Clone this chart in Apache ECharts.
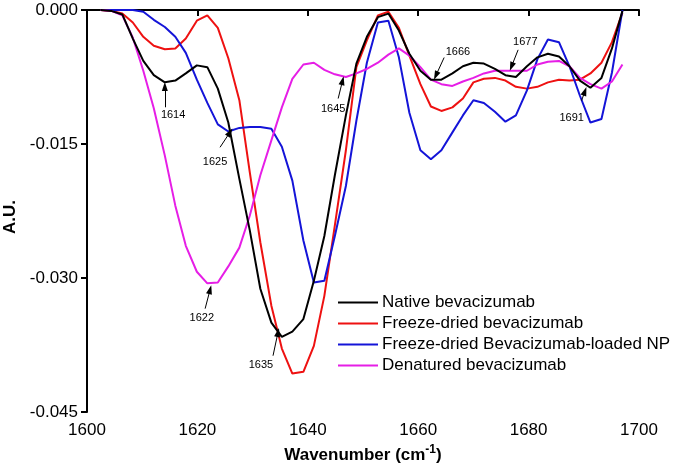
<!DOCTYPE html>
<html><head><meta charset="utf-8">
<script src="https://cdn.jsdelivr.net/npm/echarts@6/dist/echarts.min.js"></script>
<style>html,body{margin:0;padding:0;background:#fff}#c{width:675px;height:466px}</style>
</head><body><div id="c"></div>
<script>
const wavenumbers = [1602.5,1604.4,1606.4,1608.3,1610.2,1612.1,1614.1,1616.0,1617.9,1619.9,1621.8,1623.7,1625.6,1627.6,1629.5,1631.4,1633.4,1635.3,1637.2,1639.2,1641.1,1643.0,1644.9,1646.9,1648.8,1650.7,1652.7,1654.6,1656.5,1658.4,1660.4,1662.3,1664.2,1666.2,1668.1,1670.0,1671.9,1673.9,1675.8,1677.7,1679.7,1681.6,1683.5,1685.5,1687.4,1689.3,1691.2,1693.2,1695.1,1697.0];
const nativeBev = [0,-0.0001,-0.0005,-0.0032,-0.0057,-0.0073,-0.0081,-0.0079,-0.0071,-0.0062,-0.0064,-0.0088,-0.0126,-0.0189,-0.0247,-0.0312,-0.0350,-0.0366,-0.0360,-0.0346,-0.0303,-0.0253,-0.0185,-0.0118,-0.0060,-0.0030,-0.0008,-0.0004,-0.0023,-0.0049,-0.0068,-0.0078,-0.0078,-0.0071,-0.0063,-0.0059,-0.0060,-0.0066,-0.0073,-0.0075,-0.0063,-0.0053,-0.0049,-0.0052,-0.0063,-0.0079,-0.0087,-0.0076,-0.0043,-0.0001];
const freezeDried = [0,-0.0001,-0.0004,-0.0014,-0.0030,-0.0040,-0.0044,-0.0043,-0.0032,-0.0012,-0.0006,-0.0020,-0.0054,-0.0101,-0.0182,-0.0260,-0.0331,-0.0379,-0.0407,-0.0405,-0.0376,-0.0320,-0.0241,-0.0157,-0.0064,-0.0034,-0.0006,-0.0002,-0.0020,-0.0051,-0.0083,-0.0108,-0.0113,-0.0109,-0.0099,-0.0081,-0.0077,-0.0076,-0.0079,-0.0086,-0.0088,-0.0086,-0.0081,-0.0078,-0.0079,-0.0078,-0.0071,-0.0059,-0.0036,-0.0003];
const loadedNP = [0,0,0,0,-0.0002,-0.0011,-0.0019,-0.0030,-0.0048,-0.0078,-0.0104,-0.0128,-0.0136,-0.0132,-0.0131,-0.0131,-0.0133,-0.0153,-0.0191,-0.0258,-0.0305,-0.0303,-0.0253,-0.0197,-0.0124,-0.0059,-0.0014,-0.0012,-0.0053,-0.0115,-0.0157,-0.0167,-0.0157,-0.0137,-0.0118,-0.0101,-0.0104,-0.0114,-0.0125,-0.0118,-0.0090,-0.0055,-0.0033,-0.0036,-0.0063,-0.0096,-0.0126,-0.0122,-0.0070,0];
const denatured = [0,-0.0001,-0.0006,-0.0031,-0.0068,-0.0110,-0.0163,-0.0219,-0.0264,-0.0293,-0.0306,-0.0305,-0.0287,-0.0266,-0.0230,-0.0185,-0.0146,-0.0109,-0.0077,-0.0061,-0.0059,-0.0067,-0.0072,-0.0075,-0.0071,-0.0066,-0.0059,-0.0050,-0.0043,-0.0051,-0.0064,-0.0078,-0.0083,-0.0085,-0.0080,-0.0076,-0.0071,-0.0068,-0.0068,-0.0068,-0.0068,-0.0061,-0.0058,-0.0057,-0.0063,-0.0076,-0.0083,-0.0088,-0.0080,-0.0061];
const seriesNames = ['Native bevacizumab','Freeze-dried bevacizumab','Freeze-dried Bevacizumab-loaded NP','Denatured bevacizumab'];
const xTicks = [1600,1620,1640,1660,1680,1700];
const yTicks = [-0.045,-0.030,-0.015,0.000];
// peak annotations: label, arrow tip [x,y], arrow tail [x,y], label centre [x,y]
const peakLabels = ['1614','1625','1622','1635','1645','1666','1677','1691'];
const arrowTips = [[1614.1,-0.00857],[1625.9,-0.01369],[1622.3,-0.0313],[1634.6,-0.03609],[1646.3,-0.0079],[1663.2,-0.00734],[1676.9,-0.00633],[1690.2,-0.00909]];
const arrowTails = [[1614.1,-0.01089],[1624.1,-0.01537],[1621.4,-0.03343],[1633.7,-0.0387],[1645.5,-0.00991],[1664.7,-0.00532],[1678.1,-0.00446],[1689.6,-0.01014]];
const labelPos = [[1615.6,-0.0117],[1623.2,-0.01705],[1620.8,-0.03444],[1631.5,-0.0397],[1644.6,-0.01103],[1667.2,-0.00465],[1679.4,-0.00361],[1687.8,-0.01204]];

const colors = ['#000000','#ee1111','#1414d8','#e61ee6'];
const allData = [nativeBev, freezeDried, loadedNP, denatured];
const FONT = '"Liberation Sans", Arial, sans-serif';

const series = allData.map((vals, k) => ({
  name: seriesNames[k],
  type: 'line',
  data: vals.map((v, i) => [wavenumbers[i], v]),
  symbol: 'none',
  clip: false,
  lineStyle: {color: colors[k], width: 2},
  itemStyle: {color: colors[k]},
  z: 2 + (k === 0 ? 3 : k === 3 ? 2 : k)
}));

series.push({
  name: 'annotations',
  type: 'line',
  data: [],
  symbol: 'none',
  z: 10,
  markLine: {
    silent: true,
    symbol: ['none', 'triangle'],
    symbolSize: [6, 9],
    lineStyle: {color: '#000', width: 1, type: 'solid'},
    label: {show: false},
    data: arrowTips.map((tip, i) => [{coord: arrowTails[i]}, {coord: tip}])
  },
  markPoint: {
    silent: true,
    symbol: 'rect',
    symbolSize: 1,
    itemStyle: {color: 'rgba(0,0,0,0)'},
    label: {show: true, position: 'inside', color: '#000', fontSize: 11, fontFamily: FONT, formatter: p => p.name},
    data: labelPos.map((c, i) => ({name: peakLabels[i], coord: c}))
  }
});

const chart = echarts.init(document.getElementById('c'), null, {renderer: 'canvas'});
chart.setOption({
  animation: false,
  backgroundColor: '#fff',
  grid: {left: 87, right: 36, top: 10, bottom: 54, containLabel: false, outerBoundsMode: 'none'},
  xAxis: {
    type: 'value', min: xTicks[0], max: xTicks[xTicks.length-1], interval: 20,
    name: '{b|Wavenumber (cm}{s|-1}{b|)}', nameLocation: 'middle', nameGap: 31,
    nameTextStyle: {rich: {
      b: {fontSize: 17, fontWeight: 'bold', fontFamily: FONT, color: '#000', verticalAlign: 'bottom', lineHeight: 20},
      s: {fontSize: 12, fontWeight: 'bold', fontFamily: FONT, color: '#000', verticalAlign: 'top', padding: [0,0,10,0], lineHeight: 20}
    }},
    axisLine: {show: true, lineStyle: {color: '#000', width: 2}},
    axisTick: {show: true, inside: false, length: 6, lineStyle: {color: '#000', width: 2}},
    axisLabel: {color: '#000', fontSize: 17, fontFamily: FONT, margin: 10, formatter: v => String(v)},
    splitLine: {show: false}
  },
  yAxis: {
    type: 'value', min: yTicks[0], max: yTicks[yTicks.length-1], interval: 0.015,
    name: 'A.U.', nameLocation: 'middle', nameGap: 64, nameRotate: 90,
    nameTextStyle: {fontSize: 17, fontWeight: 'bold', fontFamily: FONT, color: '#000', padding: [0, 12, 0, 0]},
    axisLine: {show: true, lineStyle: {color: '#000', width: 2}},
    axisTick: {show: true, inside: false, length: 6, lineStyle: {color: '#000', width: 2}},
    axisLabel: {color: '#000', fontSize: 17, fontFamily: FONT, margin: 9, formatter: v => v.toFixed(3)},
    splitLine: {show: false}
  },
  legend: {
    data: seriesNames,
    orient: 'vertical', left: 333, top: 289,
    itemWidth: 40, itemHeight: 17, itemGap: 4,
    textStyle: {fontSize: 17, fontFamily: FONT, color: '#000', padding: [0,0,0,-1]},
    icon: 'path://M0,0 L40,0 L40,2.2 L0,2.2 Z',
    selectedMode: false
  },
  series: series
});
</script>
</body></html>
